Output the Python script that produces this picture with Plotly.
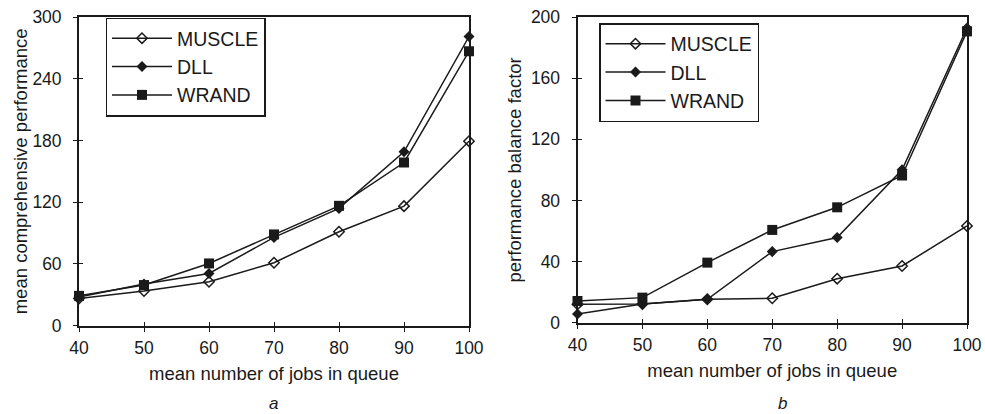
import plotly.graph_objects as go

jobs = [40, 50, 60, 70, 80, 90, 100]

# panel a: mean comprehensive performance
muscle_a = [26.5, 33.7, 42.7, 61.2, 91.3, 116.2, 179.3]
dll_a = [28, 40.5, 50.8, 85.8, 114, 169, 281]
wrand_a = [29, 39.5, 60.5, 88.7, 116.5, 158.6, 266.7]

# panel b: performance balance factor
muscle_b = [12, 12.2, 15.3, 16, 28.8, 37.1, 63.3]
dll_b = [5.7, 12.2, 15.3, 46.5, 55.7, 100, 192.8]
wrand_b = [14.2, 16.4, 39.3, 60.7, 75.5, 96.3, 190.6]

series_names = ["MUSCLE", "DLL", "WRAND"]
x_ticks = [40, 50, 60, 70, 80, 90, 100]
y_ticks_a = [0, 60, 120, 180, 240, 300]
y_ticks_b = [0, 40, 80, 120, 160, 200]

FONT = "Liberation Sans, Arial, sans-serif"
INK = "#1a1a1a"
W, H = 985, 414

markers = [
    dict(symbol="diamond-open", size=8, color=INK, line=dict(width=1.5, color=INK)),
    dict(symbol="diamond", size=8.5, color=INK, line=dict(width=0)),
    dict(symbol="square", size=10, color=INK, line=dict(width=0)),
]

fig = go.Figure()
for name, ys, mk in zip(series_names, [muscle_a, dll_a, wrand_a], markers):
    fig.add_trace(go.Scatter(x=jobs, y=ys, name=name, mode="lines+markers",
                             line=dict(color=INK, width=1.5), marker=mk,
                             xaxis="x", yaxis="y", legend="legend", cliponaxis=False))
for name, ys, mk in zip(series_names, [muscle_b, dll_b, wrand_b], markers):
    fig.add_trace(go.Scatter(x=jobs, y=ys, name=name, mode="lines+markers",
                             line=dict(color=INK, width=1.5), marker=mk,
                             xaxis="x2", yaxis="y2", legend="legend2", cliponaxis=False))

def px_x(p):
    return p / W

def px_y(p):
    return 1 - p / H

dom_xa = [px_x(79), px_x(469)]
dom_xb = [px_x(577.5), px_x(967)]
dom_ya = [px_y(325.7), px_y(17)]
dom_yb = [px_y(322.7), px_y(17)]

tickfont = dict(family=FONT, size=17.5, color=INK)
titlefont = dict(family=FONT, size=18.5, color=INK)

common_x = dict(range=[40, 100], tickvals=x_ticks, ticks="outside", ticklen=4, tickwidth=1.3,
                tickcolor=INK, showline=True, linecolor=INK, linewidth=1.8, mirror=True,
                showgrid=False, zeroline=False, tickfont=tickfont, automargin=False,
                ticklabelstandoff=1,
                title=dict(text="mean number of jobs in queue", font=titlefont, standoff=10))
common_y = dict(ticks="outside", ticklen=4, tickwidth=1.3, tickcolor=INK, showline=True,
                linecolor=INK, linewidth=1.8, mirror=True, showgrid=False, zeroline=False,
                tickfont=tickfont, ticklabelstandoff=8, automargin=False)

inner = dict(ticks="inside", ticklen=4, tickwidth=1.3, tickcolor=INK, showticklabels=False,
             showgrid=False, zeroline=False, showline=False, automargin=False)

legend_common = dict(xanchor="left", yanchor="top", bgcolor="white", bordercolor=INK,
                     borderwidth=1.5, font=dict(family=FONT, size=19.5, color=INK),
                     tracegroupgap=0, itemwidth=60)

layout = dict(
    width=W, height=H, margin=dict(l=0, r=0, t=0, b=0, autoexpand=False),
    paper_bgcolor="white", plot_bgcolor="white",
    font=dict(family=FONT, color=INK),
    xaxis=dict(domain=dom_xa, anchor="y", **common_x),
    yaxis=dict(domain=dom_ya, anchor="x", range=[0, 300], tickvals=y_ticks_a,
               title=dict(text="mean comprehensive performance", font=titlefont, standoff=0),
               **common_y),
    xaxis2=dict(domain=dom_xb, anchor="y2", **common_x),
    yaxis2=dict(domain=dom_yb, anchor="x2", range=[0, 200], tickvals=y_ticks_b,
                title=dict(text="performance balance factor", font=titlefont, standoff=4),
                **common_y),
    # inner halves of the crossing ticks
    xaxis3=dict(overlaying="x", anchor="y", range=[40, 100], tickvals=x_ticks, **inner),
    yaxis3=dict(overlaying="y", anchor="x", range=[0, 300], tickvals=y_ticks_a, **inner),
    xaxis4=dict(overlaying="x2", anchor="y2", range=[40, 100], tickvals=x_ticks, **inner),
    yaxis4=dict(overlaying="y2", anchor="x2", range=[0, 200], tickvals=y_ticks_b, **inner),
    legend=dict(x=px_x(105.5), y=px_y(17.5), **legend_common),
    legend2=dict(x=px_x(599), y=px_y(23), **legend_common),
    annotations=[
        dict(text="<i>a</i>", x=px_x(273), y=px_y(403), xref="paper", yref="paper",
             xanchor="center", yanchor="middle",
             showarrow=False, font=dict(family=FONT, size=17, color=INK)),
        dict(text="<i>b</i>", x=px_x(782), y=px_y(403), xref="paper", yref="paper",
             xanchor="center", yanchor="middle",
             showarrow=False, font=dict(family=FONT, size=17, color=INK)),
    ],
)
fig.update_layout(**layout)

# invisible traces so the overlay tick axes are drawn
fig.add_trace(go.Scatter(x=[None], y=[None], xaxis="x3", yaxis="y3", showlegend=False, hoverinfo="skip"))
fig.add_trace(go.Scatter(x=[None], y=[None], xaxis="x4", yaxis="y4", showlegend=False, hoverinfo="skip"))

fig.write_html("out.html")
